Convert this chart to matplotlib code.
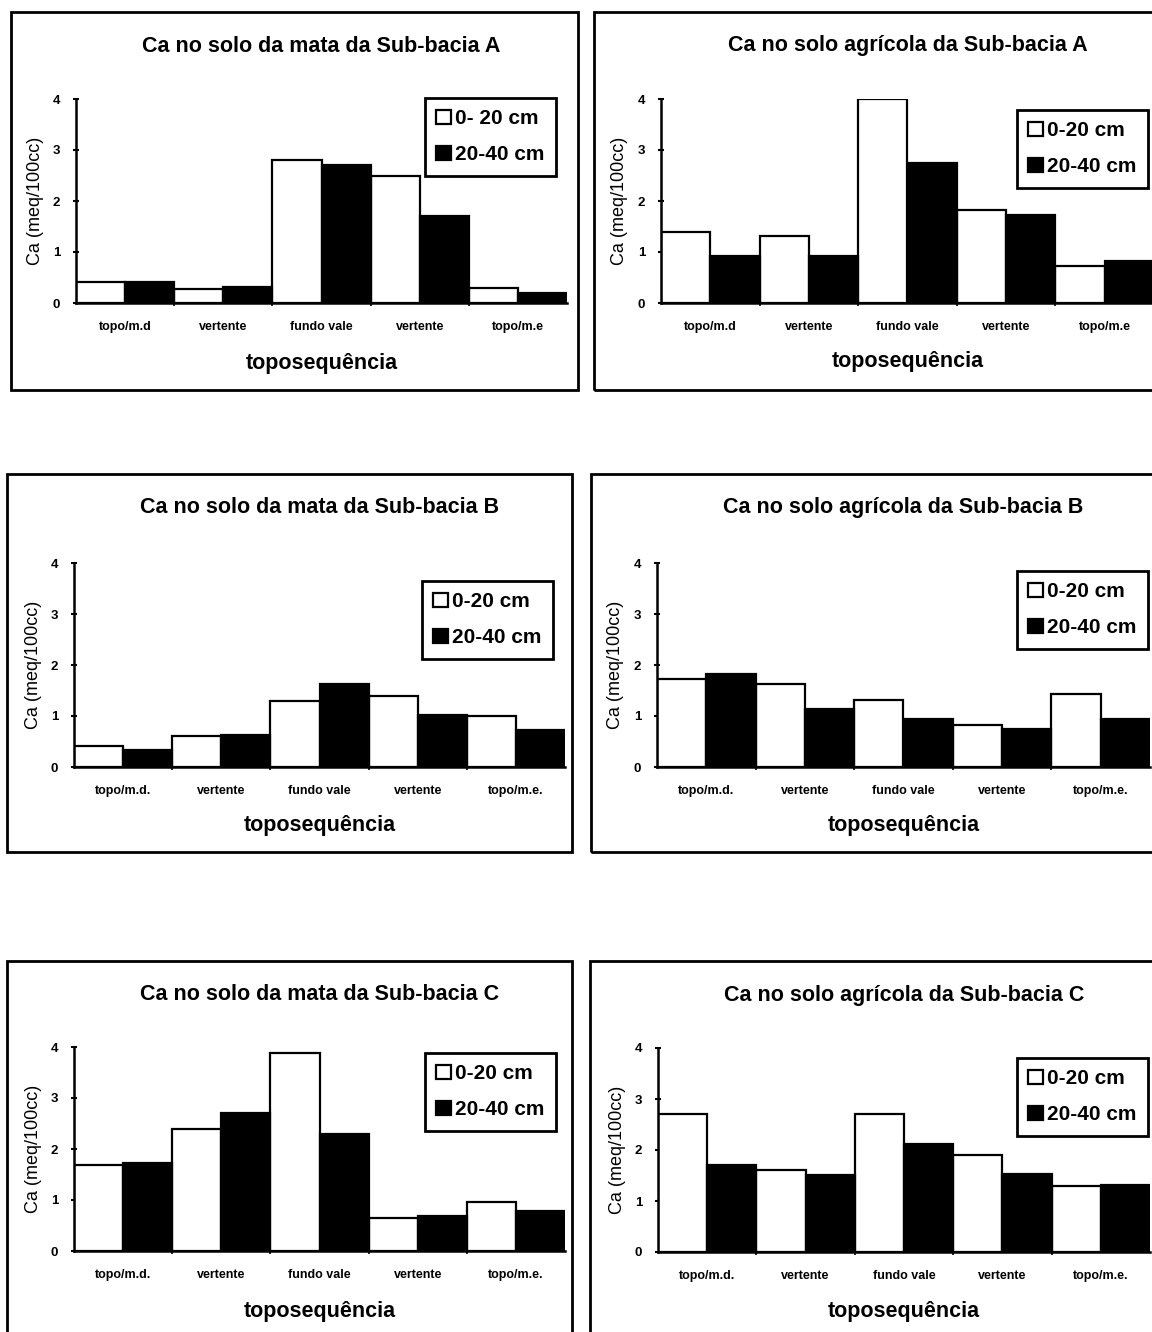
import matplotlib
matplotlib.use("Agg")
import matplotlib.pyplot as plt
import matplotlib.patches as patches
import numpy as np

plt.rcParams['font.family'] = ['Liberation Sans', 'DejaVu Sans']

W, H = 1152, 1332

categories_AB = ["topo/m.d", "vertente", "fundo vale", "vertente", "topo/m.e"]
categories_C = ["topo/m.d.", "vertente", "fundo vale", "vertente", "topo/m.e."]

titles = [
    "Ca no solo da mata da Sub-bacia A",
    "Ca no solo agrícola da Sub-bacia A",
    "Ca no solo da mata da Sub-bacia B",
    "Ca no solo agrícola da Sub-bacia B",
    "Ca no solo da mata da Sub-bacia C",
    "Ca no solo agrícola da Sub-bacia C",
]

mata_A_0_20 = [0.41, 0.28, 2.81, 2.50, 0.29]
mata_A_20_40 = [0.42, 0.31, 2.70, 1.70, 0.20]
agri_A_0_20 = [1.40, 1.31, 4.00, 1.83, 0.72]
agri_A_20_40 = [0.92, 0.93, 2.74, 1.73, 0.83]
mata_B_0_20 = [0.42, 0.60, 1.30, 1.40, 1.00]
mata_B_20_40 = [0.33, 0.62, 1.62, 1.02, 0.72]
agri_B_0_20 = [1.72, 1.62, 1.32, 0.83, 1.43]
agri_B_20_40 = [1.83, 1.13, 0.94, 0.75, 0.94]
mata_C_0_20 = [1.68, 2.39, 3.89, 0.65, 0.97]
mata_C_20_40 = [1.72, 2.71, 2.29, 0.68, 0.78]
agri_C_0_20 = [2.70, 1.60, 2.70, 1.91, 1.30]
agri_C_20_40 = [1.71, 1.51, 2.12, 1.52, 1.32]

legend_first = ["0- 20 cm", "0-20 cm", "0-20 cm", "0-20 cm", "0-20 cm", "0-20 cm"]
legend_second = "20-40 cm"
yticks = [0, 1, 2, 3, 4]

series = [
    (mata_A_0_20, mata_A_20_40, categories_AB),
    (agri_A_0_20, agri_A_20_40, categories_AB),
    (mata_B_0_20, mata_B_20_40, categories_C),
    (agri_B_0_20, agri_B_20_40, categories_C),
    (mata_C_0_20, mata_C_20_40, categories_C),
    (agri_C_0_20, agri_C_20_40, categories_C),
]

# layout in pixels: box (x0,y0,x1,y1), axes (left,right,ytop,ybottom), legend (right, top), title y, xlabel y
layout = [
    dict(box=(11, 12, 578, 390), ax=(76, 567, 99, 303), leg=(556, 98), ty=46, xy=364),
    dict(box=(594, 12, 1162, 390), ax=(661, 1154, 99, 303), leg=(1148, 110), ty=46, xy=362),
    dict(box=(7, 474, 572, 852), ax=(74, 565, 563, 767), leg=(553, 581), ty=508, xy=826),
    dict(box=(591, 474, 1162, 852), ax=(657, 1150, 563, 767), leg=(1148, 571), ty=508, xy=826),
    dict(box=(7, 961, 572, 1345), ax=(74, 565, 1047, 1251), leg=(556, 1053), ty=995, xy=1312),
    dict(box=(590, 961, 1162, 1345), ax=(658, 1150, 1048, 1252), leg=(1148, 1058), ty=995, xy=1312),
]

fig = plt.figure(figsize=(W / 100, H / 100), dpi=100)
fig.patch.set_facecolor("white")

def fx(x):
    return x / W

def fy(y):
    return 1 - y / H

for i, ((v1, v2, cats), lay) in enumerate(zip(series, layout)):
    bx0, by0, bx1, by1 = lay["box"]
    fig.add_artist(patches.Rectangle((fx(bx0), fy(by1)), (bx1 - bx0) / W, (by1 - by0) / H,
                                     transform=fig.transFigure, fill=False, lw=2.0,
                                     edgecolor="black", clip_on=False))
    L, R, T, B = lay["ax"]
    ax = fig.add_axes([fx(L), fy(B), (R - L) / W, (B - T) / H])
    x = np.arange(len(cats))
    ax.bar(x - 0.25, v1, 0.5, color="white", edgecolor="black", linewidth=1.6,
           label=legend_first[i], zorder=2)
    ax.bar(x + 0.25, v2, 0.5, color="black", edgecolor="black", linewidth=1.6,
           label=legend_second, zorder=2)
    ax.set_xlim(-0.5, len(cats) - 0.5)
    ax.set_ylim(0, 4)
    ax.patch.set_alpha(0)
    for s in ["top", "right"]:
        ax.spines[s].set_visible(False)
    ax.spines["left"].set_linewidth(1.8)
    ax.spines["bottom"].set_linewidth(1.8)
    ax.set_yticks(yticks)
    ax.set_yticklabels([str(t) for t in yticks], fontsize=9.5, fontweight="bold")
    ax.tick_params(axis="y", direction="inout", length=5, width=1.5, pad=9)
    ax.set_xticks(x)
    ax.set_xticklabels(cats, fontsize=9, fontweight="bold")
    ax.tick_params(axis="x", which="major", length=0, pad=13)
    ax.set_xticks(x[:-1] + 0.5, minor=True)
    ax.tick_params(axis="x", which="minor", direction="inout", length=5, width=1.2)
    lr, lt = lay["leg"]
    leg = ax.legend(loc="upper right", bbox_to_anchor=(fx(lr), fy(lt)),
                    bbox_transform=fig.transFigure, borderaxespad=0,
                    frameon=True, fancybox=False, framealpha=1, edgecolor="black",
                    handlelength=0.7, handleheight=0.7, handletextpad=0.2,
                    borderpad=0.55, labelspacing=0.8,
                    prop=dict(size=15, weight="bold"))
    leg.get_frame().set_linewidth(2.0)
    cx = (L + R) / 2
    fig.text(fx(cx), fy(lay["ty"]), titles[i], ha="center", va="center",
             fontsize=15.5, fontweight="bold")
    fig.text(fx(cx), fy(lay["xy"]), "toposequência", ha="center", va="center",
             fontsize=15.5, fontweight="bold")
    fig.text(fx(L - 41), fy((T + B) / 2), "Ca (meq/100cc)", ha="center", va="center",
             rotation=90, fontsize=13)

fig.savefig("out.png", dpi=100, facecolor="white")
